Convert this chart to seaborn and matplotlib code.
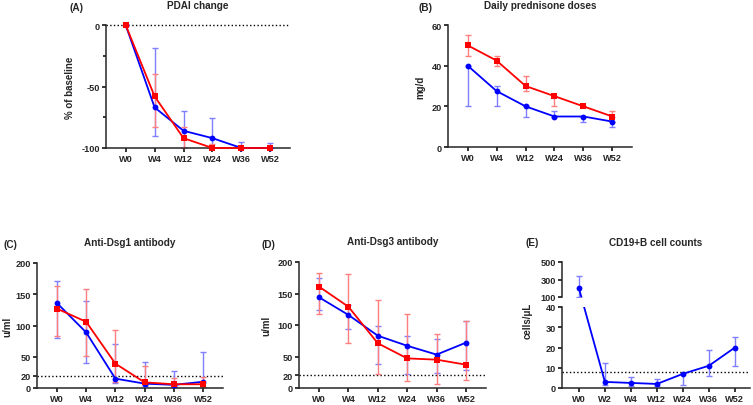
import numpy as np
import pandas as pd
import matplotlib
matplotlib.use('Agg')
import matplotlib.pyplot as plt
import seaborn as sns

# ---- data ----
weeks = ['W0', 'W4', 'W12', 'W24', 'W36', 'W52']

pdai_blue = [0, -67, -86, -92, -100, -100]
pdai_blue_lo = [0, -90, -100, -100, -100, -100]
pdai_blue_hi = [0, -19, -70, -76, -95, -96]
pdai_red = [0, -58, -92, -100, -100, -100]
pdai_red_lo = [0, -83, -100, -100, -100, -100]
pdai_red_hi = [0, -40, -83, -97, -100, -100]

pred_blue = [40, 27.5, 20, 15, 15, 12.5]
pred_blue_lo = [20, 20, 15, 15, 12.5, 10]
pred_blue_hi = [40, 30, 20, 17.5, 15, 15]
pred_red = [50, 42.5, 30, 25, 20, 15]
pred_red_lo = [45, 40, 27.5, 20, 20, 12.5]
pred_red_hi = [55, 45, 35, 25, 20, 17.5]

dsg1_blue = [136, 89, 15, 7, 5, 10]
dsg1_blue_lo = [80, 40, 8, 4, 2, 1]
dsg1_blue_hi = [171, 139, 70, 41, 28, 57]
dsg1_red = [127, 106, 39, 9, 6, 6]
dsg1_red_lo = [84, 51, 10, 5, 3, 2]
dsg1_red_hi = [164, 159, 93, 35, 16, 17]

dsg3_blue = [144, 116, 83, 67, 53, 72]
dsg3_blue_lo = [124, 94, 38, 23, 24, 28]
dsg3_blue_hi = [175, 132, 99, 83, 78, 106]
dsg3_red = [161, 129, 71, 47, 45, 37]
dsg3_red_lo = [118, 72, 23, 11, 6, 12]
dsg3_red_hi = [183, 181, 140, 117, 86, 106]

weeks_e = ['W0', 'W2', 'W4', 'W12', 'W24', 'W36', 'W52']
cd19 = [200, 3, 2.5, 2, 7, 11, 20]
cd19_lo = [100, 1.5, 0.8, 1, 1.5, 6, 11]
cd19_hi = [345, 12.5, 5.5, 4.5, 7.5, 19, 25]

# ---- style ----
sns.set_theme(style='ticks')
plt.rcParams['font.family'] = ['Liberation Sans', 'DejaVu Sans']
plt.rcParams['font.weight'] = 'bold'
plt.rcParams['axes.labelweight'] = 'bold'
plt.rcParams['axes.linewidth'] = 1.1
plt.rcParams['axes.unicode_minus'] = False

BLUE, RED = '#0000ff', '#ff0000'
BLUE_E, RED_E = '#7f7fff', '#ff7f7f'
TICK_FS, TITLE_FS = 6.6, 7.2

W, H = 753, 406
fig = plt.figure(figsize=(W / 100, H / 100), dpi=100)


def px_axes(left, right, top, bottom):
    return fig.add_axes([left / W, (H - bottom) / H, (right - left) / W, (bottom - top) / H])


def style_axes(ax, xlabels=None):
    sns.despine(ax=ax)
    ax.tick_params(axis='both', which='major', length=3, width=1.1,
                   labelsize=TICK_FS, pad=1.5, color='black')
    ax.tick_params(axis='both', which='minor', length=2, width=1.1, color='black')
    if xlabels is not None:
        ax.set_xticks(range(len(xlabels)))
        ax.set_xticklabels(xlabels, fontweight='bold')
    for lab in ax.get_yticklabels():
        lab.set_fontweight('bold')
    ax.grid(False)


def panel(ax, blue, blue_lo, blue_hi, red, red_lo, red_hi):
    n = len(weeks)
    x = np.arange(n)
    for vals, lo, hi, col in [(blue, blue_lo, blue_hi, BLUE_E), (red, red_lo, red_hi, RED_E)]:
        v = np.array(vals, float)
        ax.errorbar(x, v, yerr=[v - np.array(lo), np.array(hi) - v], fmt='none',
                    ecolor=col, elinewidth=1.0, capsize=2.3, capthick=1.0, zorder=2)
    df = pd.DataFrame({'x': list(x) * 2, 'val': list(blue) + list(red),
                       'grp': ['g1'] * n + ['g2'] * n})
    sns.lineplot(data=df, x='x', y='val', hue='grp', style='grp',
                 palette={'g1': BLUE, 'g2': RED}, markers={'g1': 'o', 'g2': 's'},
                 dashes=False, legend=False, ax=ax, lw=1.3, markersize=4.2,
                 markeredgewidth=0, clip_on=False, zorder=3)
    ax.set_xlim(-0.68, 5.68)
    ax.set_xlabel('')


def label(ax, text, xpx, axes_px):
    ax.set_ylabel(text, fontsize=TICK_FS + 0.4, fontweight='bold')
    left = ax.get_position().x0 * W
    ax.yaxis.set_label_coords((xpx - left) / axes_px, 0.5)


# (A) PDAI change
axA = px_axes(106, 290, 26, 149)
panel(axA, pdai_blue, pdai_blue_lo, pdai_blue_hi, pdai_red, pdai_red_lo, pdai_red_hi)
axA.set_ylim(-100, 0)
axA.set_yticks([0, -50, -100])
axA.set_yticks([-25, -75], minor=True)
axA.axhline(0, color='black', ls=':', lw=1, zorder=1, clip_on=False)
style_axes(axA, weeks)
label(axA, '% of baseline', 75, 184)
axA.set_title('PDAI change', fontsize=TITLE_FS, fontweight='bold', pad=12)

# (B) Daily prednisone doses
axB = px_axes(448, 632, 26, 148)
panel(axB, pred_blue, pred_blue_lo, pred_blue_hi, pred_red, pred_red_lo, pred_red_hi)
axB.set_ylim(0, 60)
axB.set_yticks([0, 20, 40, 60])
style_axes(axB, weeks)
label(axB, 'mg/d', 425, 184)
axB.set_title('Daily prednisone doses', fontsize=TITLE_FS, fontweight='bold', pad=12)

# (C) Anti-Dsg1
axC = px_axes(37, 223, 264, 389)
panel(axC, dsg1_blue, dsg1_blue_lo, dsg1_blue_hi, dsg1_red, dsg1_red_lo, dsg1_red_hi)
axC.set_ylim(0, 200)
axC.set_yticks([0, 20, 50, 100, 150, 200])
axC.axhline(20, color='black', ls=':', lw=1, zorder=1)
style_axes(axC, weeks)
label(axC, 'u/ml', 12, 186)
axC.set_title('Anti-Dsg1 antibody', fontsize=TITLE_FS, fontweight='bold', pad=13)

# (D) Anti-Dsg3
axD = px_axes(299, 486, 263, 389)
panel(axD, dsg3_blue, dsg3_blue_lo, dsg3_blue_hi, dsg3_red, dsg3_red_lo, dsg3_red_hi)
axD.set_ylim(0, 200)
axD.set_yticks([0, 20, 50, 100, 150, 200])
axD.axhline(20, color='black', ls=':', lw=1, zorder=1)
style_axes(axD, weeks)
label(axD, 'u/ml', 271, 187)
axD.set_title('Anti-Dsg3 antibody', fontsize=TITLE_FS, fontweight='bold', pad=13)

# (E) CD19+ B cell counts, broken y axis
axEu = px_axes(562, 750, 263, 298)
axEl = px_axes(562, 750, 308, 389)
xe = np.arange(len(weeks_e))
for ax in (axEu, axEl):
    ax.set_xlim(-0.65, 6.58)
axEu.set_ylim(100, 500)
axEl.set_ylim(0, 40)

v = np.array(cd19, float)
err = [v - np.array(cd19_lo), np.array(cd19_hi) - v]
axEu.errorbar(xe[:1], v[:1], yerr=[err[0][:1], err[1][:1]], fmt='none', ecolor=BLUE_E,
              elinewidth=1.0, capsize=2.3, capthick=1.0)
axEl.errorbar(xe[1:], v[1:], yerr=[err[0][1:], err[1][1:]], fmt='none', ecolor=BLUE_E,
              elinewidth=1.0, capsize=2.3, capthick=1.0)
e_df = pd.DataFrame({'x': xe, 'val': v})
sns.lineplot(data=e_df.iloc[1:], x='x', y='val', color=BLUE, marker='o', lw=1.3,
             markersize=4.2, markeredgewidth=0, ax=axEl, clip_on=False, zorder=3)
sns.lineplot(data=e_df.iloc[:1], x='x', y='val', color=BLUE, marker='o', lw=1.3,
             markersize=4.2, markeredgewidth=0, ax=axEu, zorder=3)
# W0 -> W2 segment is straight on screen across the break
p0 = axEu.transData.transform((xe[0], v[0]))
p1 = axEl.transData.transform((xe[1], v[1]))
y0_low = axEl.transData.inverted().transform(p0)[1]
y1_up = axEu.transData.inverted().transform(p1)[1]
axEl.plot([xe[0], xe[1]], [y0_low, v[1]], color=BLUE, lw=1.3, zorder=3)
axEu.plot([xe[0], xe[1]], [v[0], y1_up], color=BLUE, lw=1.3, zorder=3)
axEl.axhline(8, color='black', ls=':', lw=1, zorder=1)

axEu.set_yticks([100, 300, 500])
axEl.set_yticks([0, 10, 20, 30, 40])
style_axes(axEl, weeks_e)
style_axes(axEu)
axEu.spines['bottom'].set_visible(False)
axEu.set_xticks([])
axEu.set_xlabel('')
axEu.set_ylabel('')
axEl.set_xlabel('')
axEl.set_ylabel('cells/\u03bcL', fontsize=TICK_FS + 0.4, fontweight='bold')
axEl.yaxis.set_label_coords((533 - 562) / 188, (389 - 321) / 81)
axEu.set_title('CD19+B cell counts', fontsize=TITLE_FS, fontweight='bold', pad=12)

# panel letters
for txt, xp, yp in [('(A)', 69, 8), ('(B)', 419, 8), ('(C)', 3, 245),
                    ('(D)', 261, 245), ('(E)', 526, 243)]:
    fig.text(xp / W, 1 - yp / H, txt, fontsize=TITLE_FS, fontweight='bold',
             ha='left', va='center')

fig.savefig('out.png', dpi=100)
